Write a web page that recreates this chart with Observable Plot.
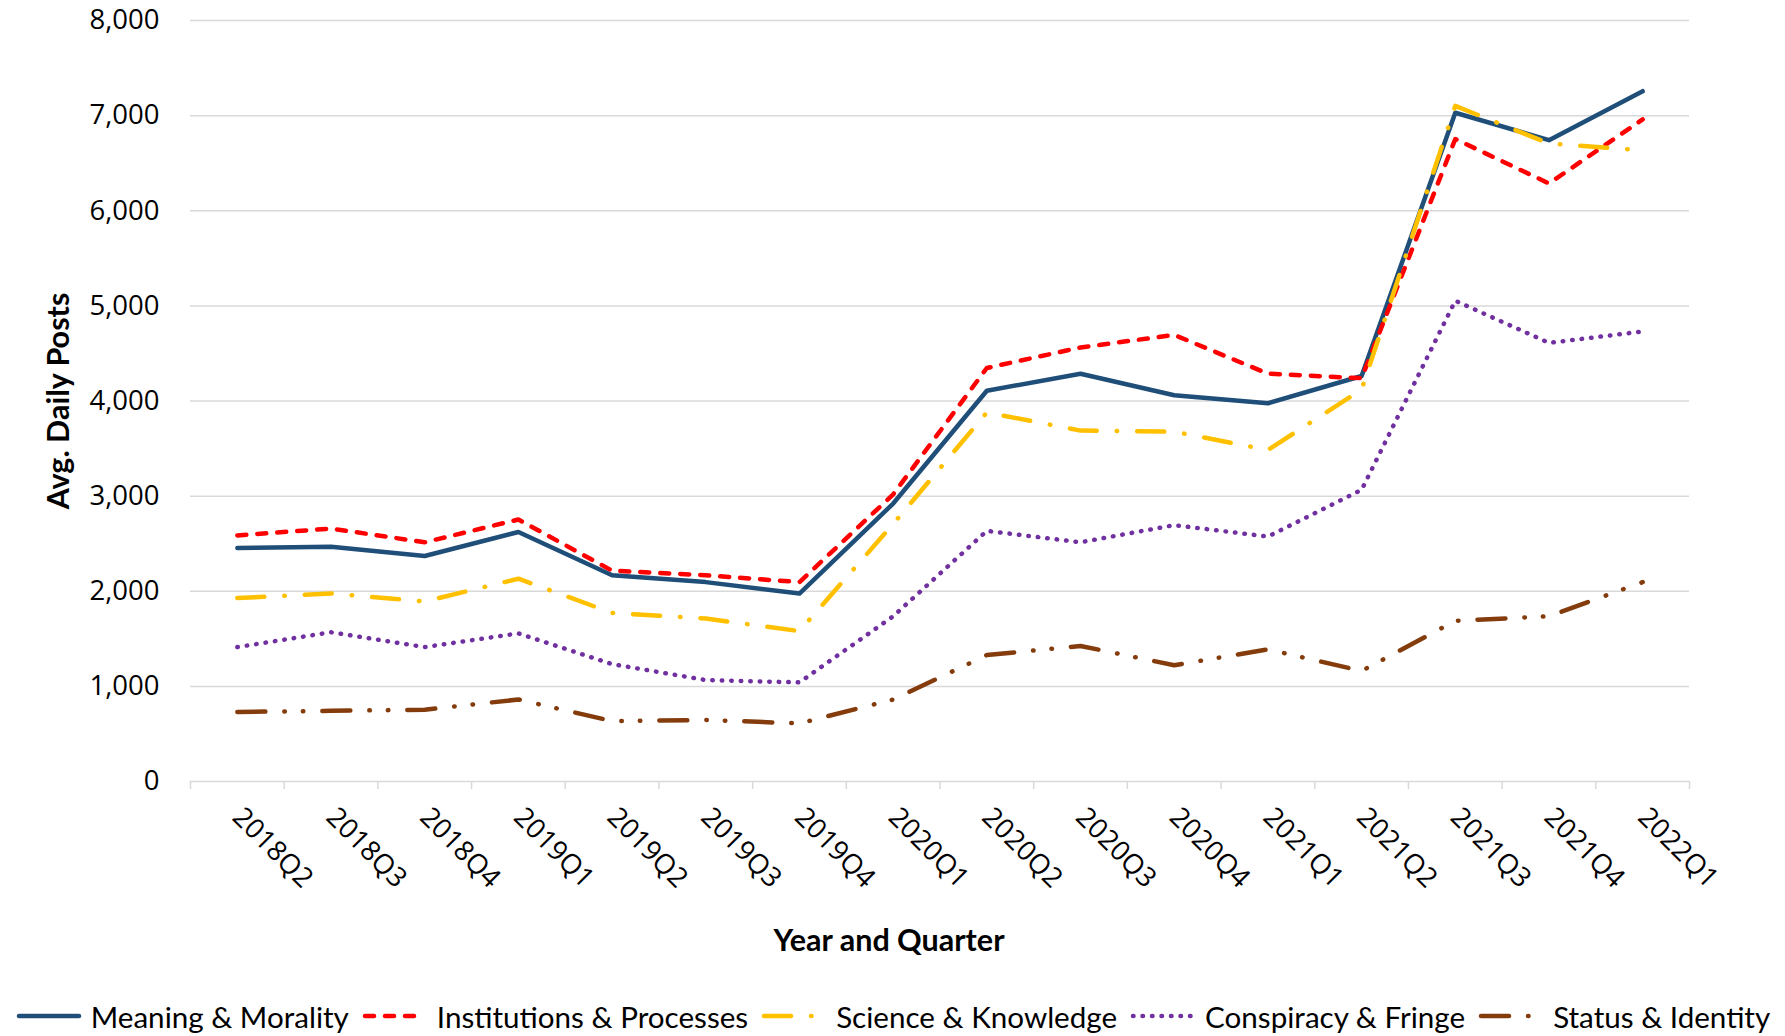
<!DOCTYPE html>
<html><head><meta charset="utf-8">
<script src="https://cdn.jsdelivr.net/npm/d3@7"></script>
<script src="https://cdn.jsdelivr.net/npm/@observablehq/plot@0.6"></script>
<style>
body{margin:0;background:#fff;}
#legend{display:flex;justify-content:center;align-items:center;height:46px;margin-top:3px;font-family:Lato,sans-serif;font-size:29.6px;color:#000;white-space:nowrap;}
#legend .item{display:flex;align-items:center;margin:0 6px;}
#legend svg{margin-right:8px;}
</style>
</head><body>
<div id="chart"></div>
<div id="legend"></div>
<script>
const quarters = ["2018Q2","2018Q3","2018Q4","2019Q1","2019Q2","2019Q3","2019Q4","2020Q1","2020Q2","2020Q3","2020Q4","2021Q1","2021Q2","2021Q3","2021Q4","2022Q1"];
const seriesNames = ["Meaning & Morality","Institutions & Processes","Science & Knowledge","Conspiracy & Fringe","Status & Identity"];
const meaning      = [2455,2467,2371,2623,2168,2096,1976,2922,4108,4287,4060,3976,4263,7030,6742,7257];
const institutions = [2587,2659,2515,2754,2216,2168,2096,3018,4347,4563,4695,4287,4240,6754,6287,6960];
const science      = [1928,1976,1892,2132,1772,1713,1581,2707,3880,3689,3677,3485,4120,7102,6707,6635];
const conspiracy   = [1413,1569,1413,1557,1234,1066,1042,1737,2635,2515,2695,2575,3066,5054,4611,4731];
const status       = [731,743,755,862,635,647,611,862,1329,1425,1222,1389,1162,1689,1737,2096];
const yTicks = [0,1000,2000,3000,4000,5000,6000,7000,8000];

const seriesValues = [meaning, institutions, science, conspiracy, status];
const colors = ["#1F4E79","#FF0000","#FFC000","#7030A0","#843C0C"];
const dashes = [null, "9,11", "27,20,0.5,20", "0.5,9", "28,19,0.5,18,0.5,19"];

const rows = [];
seriesNames.forEach((s, k) => seriesValues[k].forEach((v, i) => rows.push({s, i, q: quarters[i], v})));

const lineMarks = seriesNames.map((s, k) => Plot.line(rows.filter(d => d.s === s), {
  x: "i", y: "v", stroke: colors[k], strokeWidth: 4.5,
  strokeDasharray: dashes[k], strokeLinecap: "round", strokeLinejoin: "round"
}));

const chart = Plot.plot({
  width: 1785, height: 990,
  marginLeft: 190, marginRight: 96, marginTop: 20, marginBottom: 209,
  x: {domain: [-0.5, quarters.length - 0.5]},
  y: {domain: [0, 8000]},
  style: {fontFamily: "'Open Sans', sans-serif", fontSize: "27px", color: "#000", background: "#fff"},
  marks: [
    Plot.ruleY(yTicks, {stroke: "#d9d9d9", strokeWidth: 1.5}),
    Plot.axisY({ticks: yTicks, tickSize: 0, tickPadding: 31, tickFormat: d3.format(","), label: null, fontSize: 27.5}),
    Plot.axisX({ticks: d3.range(-0.5, quarters.length, 1), tickFormat: () => "", tickSize: 8, stroke: "#d9d9d9", strokeWidth: 1.5, label: null}),
    Plot.axisX({ticks: d3.range(quarters.length), tickFormat: i => quarters[i], tickSize: 0, tickPadding: 31, tickRotate: 45, label: null, fontSize: 27.5}),
    Plot.text(["Avg. Daily Posts"], {frameAnchor: "left", textAnchor: "middle", rotate: -90, dx: -131, fontWeight: "bold", fontFamily: "Lato, sans-serif", fontSize: 30.5, lineAnchor: "middle"}),
    Plot.text(["Year and Quarter"], {frameAnchor: "bottom", dy: 160, dx: -51, fontWeight: "bold", fontFamily: "Lato, sans-serif", fontSize: 30.5, lineAnchor: "middle"}),
    ...lineMarks
  ]
});
document.getElementById("chart").appendChild(chart);

const legend = document.getElementById("legend");
seriesNames.forEach((s, k) => {
  const item = document.createElement("div");
  item.className = "item";
  const dash = dashes[k] ? `stroke-dasharray="${dashes[k]}"` : "";
  item.innerHTML = `<svg width="68" height="12"><line x1="4" y1="6" x2="64" y2="6" stroke="${colors[k]}" stroke-width="4.5" stroke-linecap="round" ${dash}/></svg><span>${s.replace("&","&amp;")}</span>`;
  legend.appendChild(item);
});
</script>
</body></html>
